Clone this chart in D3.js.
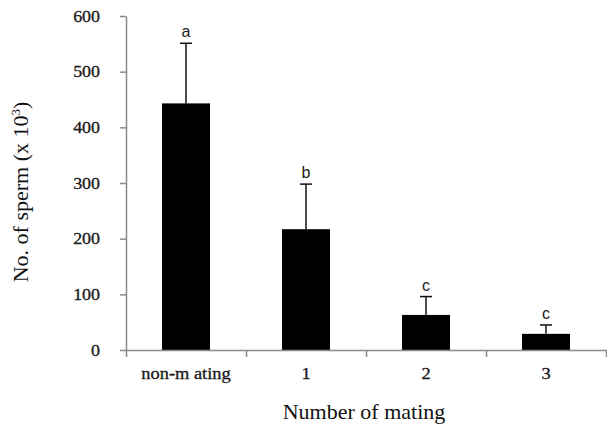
<!DOCTYPE html>
<html lang="en">
<head>
    <meta charset="UTF-8">
    <title>No. of sperm by number of mating</title>
    <script src="https://d3js.org/d3.v7.min.js"></script>
    <style>
        html, body {
            margin: 0;
            padding: 0;
            background: #fff;
        }
        svg {
            display: block;
        }
        .axis path, .axis line {
            stroke: #8a8a8a;
            stroke-width: 1.5px;
        }
        .axis text {
            font-family: "Liberation Serif", "Times New Roman", serif;
            font-size: 16px;
            fill: #1a1a1a;
            stroke: #1a1a1a;
            stroke-width: 0.3px;
        }
        .title {
            font-family: "Liberation Serif", "Times New Roman", serif;
            font-size: 22px;
            fill: #111;
        }
        .letter {
            font-family: "Liberation Sans", Arial, sans-serif;
            font-size: 16px;
            fill: #222;
        }
    </style>
</head>
<body>
    <svg id="chart"></svg>

    <script>
        // data
        var categories = ["non-m ating", "1", "2", "3"];
        var means = [443, 217, 63, 29];
        var errors = [108, 81, 33, 16];
        var letters = ["a", "b", "c", "c"];
        var yTicks = [0, 100, 200, 300, 400, 500, 600];

        var width = 607, height = 427;
        // plot area (note: "top" is reserved on window, so use other names)
        var plotLeft = 126, plotRight = 606, plotTop = 16, plotBottom = 350;

        var svg = d3.select("#chart")
            .attr("width", width)
            .attr("height", height);

        var x = d3.scaleBand()
            .domain(categories)
            .range([plotLeft, plotRight])
            .paddingInner(0.6)
            .paddingOuter(0.3);

        // boundary ticks sit between the categories
        var xEdge = d3.scaleLinear().domain([0, categories.length]).range([plotLeft, plotRight]);

        var y = d3.scaleLinear().domain([0, 600]).range([plotBottom, plotTop]);

        // stretch text a bit horizontally, like the original picture
        function widen(sel, k) {
            sel.each(function() {
                var t = d3.select(this);
                var tx = +t.attr("x") || 0;
                t.attr("x", 0).attr("transform", "translate(" + tx + ",0) scale(" + k + ",1)");
            });
        }

        // bars
        svg.selectAll(".bar")
            .data(means)
            .enter().append("rect")
            .attr("class", "bar")
            .attr("x", function(d, i) { return x(categories[i]); })
            .attr("y", function(d) { return y(d); })
            .attr("width", x.bandwidth())
            .attr("height", function(d) { return y(0) - y(d); })
            .attr("fill", "#000");

        // error bars (upper only)
        var capHalf = 6;
        var err = svg.selectAll(".err")
            .data(means)
            .enter().append("g")
            .attr("class", "err")
            .attr("stroke", "#111")
            .attr("stroke-width", 1.5);

        err.append("line")
            .attr("x1", function(d, i) { return x(categories[i]) + x.bandwidth() / 2; })
            .attr("x2", function(d, i) { return x(categories[i]) + x.bandwidth() / 2; })
            .attr("y1", function(d) { return y(d); })
            .attr("y2", function(d, i) { return y(d + errors[i]); });

        err.append("line")
            .attr("x1", function(d, i) { return x(categories[i]) + x.bandwidth() / 2 - capHalf; })
            .attr("x2", function(d, i) { return x(categories[i]) + x.bandwidth() / 2 + capHalf; })
            .attr("y1", function(d, i) { return y(d + errors[i]); })
            .attr("y2", function(d, i) { return y(d + errors[i]); });

        // significance letters
        svg.selectAll(".letter")
            .data(letters)
            .enter().append("text")
            .attr("class", "letter")
            .attr("x", function(d, i) { return x(categories[i]) + x.bandwidth() / 2; })
            .attr("y", function(d, i) { return y(means[i] + errors[i]) - 6; })
            .attr("text-anchor", "middle")
            .text(function(d) { return d; });

        // y axis
        var yAxis = svg.append("g")
            .attr("class", "axis")
            .attr("transform", "translate(" + plotLeft + ",0)")
            .call(d3.axisLeft(y).tickValues(yTicks).tickSize(6).tickPadding(20).tickSizeOuter(0));
        yAxis.selectAll("text").call(widen, 1.12);

        // x axis: line and boundary ticks
        svg.append("g")
            .attr("class", "axis")
            .attr("transform", "translate(0," + plotBottom + ")")
            .call(d3.axisBottom(xEdge).tickValues(d3.range(categories.length + 1)).tickSize(7).tickSizeOuter(0).tickFormat(""));

        // x axis: category labels
        var xLabels = svg.append("g")
            .attr("class", "axis")
            .attr("transform", "translate(0," + plotBottom + ")")
            .call(d3.axisBottom(x).tickSize(0).tickPadding(18));
        xLabels.select(".domain").remove();
        xLabels.selectAll("text").call(widen, 1.15);

        // axis titles
        svg.append("text")
            .attr("class", "title")
            .attr("x", 364)
            .attr("y", 419)
            .attr("text-anchor", "middle")
            .text("Number of mating");

        var yTitle = svg.append("text")
            .attr("class", "title")
            .attr("transform", "translate(28," + ((plotTop + plotBottom) / 2 + 9) + ") rotate(-90)")
            .attr("text-anchor", "middle");
        yTitle.append("tspan").text("No. of sperm (x 10");
        yTitle.append("tspan").attr("font-size", "13px").attr("dy", "-8").text("3");
        yTitle.append("tspan").attr("dy", "8").text(")");
    </script>
</body>
</html>
